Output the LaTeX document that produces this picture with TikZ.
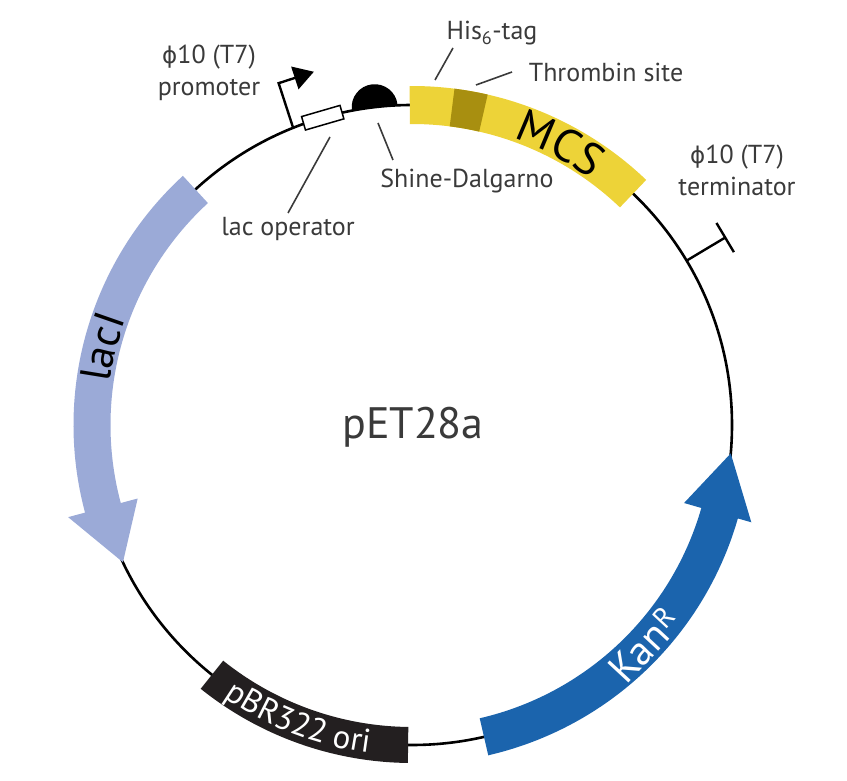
\documentclass[tikz,border=0pt]{standalone}
\usepackage{fontspec}
\setmainfont{PT Sans}
\newfontfamily\phifont{DejaVu Sans}
\usetikzlibrary{decorations.text}
\definecolor{mcsyellow}{RGB}{237,211,56}
\definecolor{tagolive}{RGB}{168,143,16}
\definecolor{laciblue}{RGB}{155,170,215}
\definecolor{kanblue}{RGB}{27,100,173}
\definecolor{oriblack}{RGB}{35,31,32}
\definecolor{labelgray}{RGB}{58,58,58}
\newcommand{\phisym}{{\phifont\fontsize{23}{32}\selectfont ϕ}}
\begin{document}
\begin{tikzpicture}[x=1pt,y=1pt,
  lbl/.style={text=labelgray, font=\fontsize{26}{32}\selectfont, inner sep=0pt, align=center, anchor=base},
  leader/.style={draw=labelgray, line width=1.6pt},
  backbone/.style={draw=black, line width=2.6pt},
  symline/.style={draw=black, line width=2.4pt},
]
\useasboundingbox (0,0) rectangle (847,780);
\coordinate (C) at (412,355);
\draw[backbone] (C) circle[radius=320pt];

\begin{scope}[shift={(C)}]
  % lacI arrow
  \fill[laciblue] (132.6:301.5pt) arc[start angle=132.6, end angle=195, radius=301.5pt]
    -- (195:284pt) -- (205.4:320pt) -- (195:356pt) -- (195:338.5pt)
    arc[start angle=195, end angle=132.6, radius=338.5pt] -- cycle;
  \path[decorate, decoration={text along path, text align=center,
      text={|\fontsize{43}{43}\selectfont\color{black}|lacI}}]
    (178.5:305pt) arc[start angle=178.5, end angle=153.1, radius=305pt];

  % KanR arrow
  \fill[kanblue] (-77:301pt) arc[start angle=-77, end angle=-16, radius=301pt]
    -- (-16:283pt) -- (-5.1:320pt) -- (-16:353pt) -- (-16:339pt)
    arc[start angle=-16, end angle=-77, radius=339pt] -- cycle;
  \node[text=white, font=\fontsize{41}{41}\selectfont, rotate=47.1, inner sep=0pt] (kan)
    at (-43.4:320pt) {Kan\textsuperscript{R}};

  % pBR322 ori
  \fill[oriblack] (231.3:302pt) arc[start angle=231.3, end angle=269.3, radius=302pt]
    -- (269.3:338pt) arc[start angle=269.3, end angle=231.3, radius=338pt] -- cycle;
  \path[decorate, decoration={text along path, text align=center,
      text={|\fontsize{33}{33}\selectfont\color{white}|pBR322 ori}}]
    (230.4:331pt) arc[start angle=230.4, end angle=267.4, radius=331pt];

  % MCS
  \fill[mcsyellow] (46.3:301pt) arc[start angle=46.3, end angle=90.4, radius=301pt]
    -- (90.4:339pt) arc[start angle=90.4, end angle=46.3, radius=339pt] -- cycle;
  \fill[tagolive] (77.1:301pt) arc[start angle=77.1, end angle=82.8, radius=301pt]
    -- (82.8:339pt) arc[start angle=82.8, end angle=77.1, radius=339pt] -- cycle;
  \path[decorate, decoration={text along path, text align=center,
      text={|\fontsize{46}{46}\selectfont\color{black}|MCS}}]
    (75:304pt) arc[start angle=75, end angle=49.6, radius=304pt];

  % terminator
  \draw[symline] (30.9:320pt) -- (30.9:365pt) ++(120.9:17pt) -- ++(-59.1:34pt);

  % promoter bent arrow
  \begin{scope}[shift={(111.8:320pt)}, rotate=18]
    \draw[symline] (0,0) -- (0,47) -- (18,47);
    \fill (17,59) -- (37,47) -- (17,35) -- cycle;
  \end{scope}

  % lac operator
  \begin{scope}[shift={(106.2:320pt)}, rotate=16.2]
    \draw[fill=white, line width=1.5pt] (-20,-7) rectangle (20,7);
  \end{scope}

  % Shine-Dalgarno
  \begin{scope}[shift={(96.7:320pt)}, rotate=6.7]
    \fill (-23,0) arc[start angle=180, end angle=0, radius=23pt] -- cycle;
  \end{scope}
\end{scope}

% labels
\node[lbl] (prom) at (209,684) {\phisym10 (T7)\\promoter};
\node[lbl] (term) at (737,584) {\phisym10 (T7)\\terminator};
\node[lbl] (his) at (492,740) {His\textsubscript{6}-tag};
\node[lbl] (thr) at (606,698) {Thrombin site};
\node[lbl] (sd) at (467,592) {Shine-Dalgarno};
\node[lbl] (lacop) at (288,544) {lac operator};
\node[lbl, font=\fontsize{44}{44}\selectfont] (name) at (413,341) {pET28a};

% leader lines
\coordinate (hisA) at (453,732); \coordinate (hisB) at (435,700);
\coordinate (thrA) at (512,708); \coordinate (thrB) at (476,695);
\coordinate (sdA) at (378,657);  \coordinate (sdB) at (393,620);
\coordinate (opA) at (330,643);  \coordinate (opB) at (288,567);
\draw[leader] (hisA) -- (hisB);
\draw[leader] (thrA) -- (thrB);
\draw[leader] (sdA) -- (sdB);
\draw[leader] (opA) -- (opB);
\end{tikzpicture}
\end{document}
